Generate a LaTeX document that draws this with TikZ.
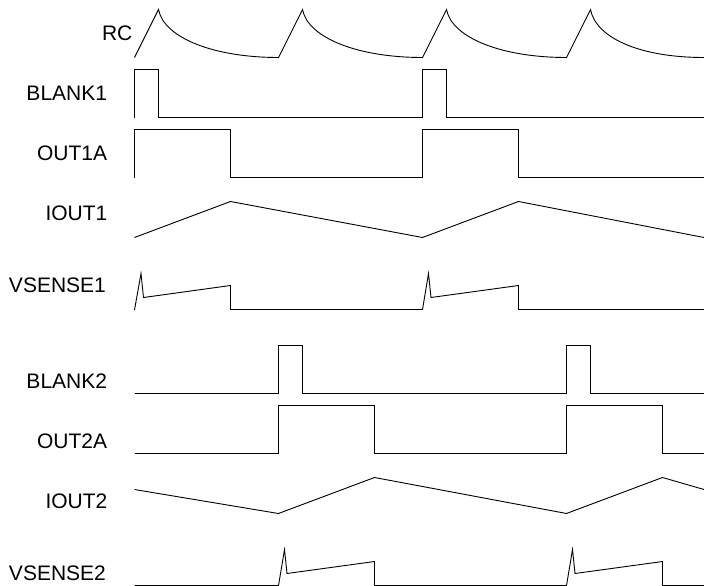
\documentclass[tikz,border=0pt]{standalone}
\usepackage{fontspec}
\setmainfont{Liberation Sans}
\tikzset{
  wave/.style={draw=black,line width=0.9pt,line join=miter,miter limit=10},
  siglabel/.style={anchor=base west,inner sep=0pt,outer sep=0pt,font=\fontsize{21}{24}\selectfont,text=black}
}
\begin{document}
\begin{tikzpicture}[x=1pt,y=-1pt]
\useasboundingbox (0,0) rectangle (704,586);
\node[siglabel] (rc) at (102,40.5) {RC};
\node[siglabel] (blank1) at (26.5,100) {BLANK1};
\node[siglabel] (out1a) at (37,160) {OUT1A};
\node[siglabel] (iout1) at (45.5,220.5) {IOUT1};
\node[siglabel] (vsense1) at (9,292) {VSENSE1};
\node[siglabel] (blank2) at (26.5,388.5) {BLANK2};
\node[siglabel] (out2a) at (37,448) {OUT2A};
\node[siglabel] (iout2) at (45.5,508) {IOUT2};
\node[siglabel] (vsense2) at (9,580) {VSENSE2};
% RC
\draw[wave] (134.5,57.5) -- (158.5,9.5) .. controls (164,38) and (214,57.5) .. (278.5,57.5)
  -- (302.5,9.5) .. controls (308,38) and (358,57.5) .. (422.5,57.5)
  -- (446.5,9.5) .. controls (452,38) and (502,57.5) .. (566.5,57.5)
  -- (590.5,9.5) .. controls (596,38) and (640,57.5) .. (704,57.5);
% BLANK1
\draw[wave] (134.5,117.5) -- (134.5,69.5) -- (158.5,69.5) -- (158.5,117.5) -- (422.5,117.5) -- (422.5,69.5) -- (446.5,69.5) -- (446.5,117.5) -- (704,117.5);
% OUT1A
\draw[wave] (134.5,177.5) -- (134.5,129.5) -- (230.5,129.5) -- (230.5,177.5) -- (422.5,177.5) -- (422.5,129.5) -- (518.5,129.5) -- (518.5,177.5) -- (704,177.5);
% IOUT1
\draw[wave] (134.5,237.5) -- (230.5,201.5) -- (422.5,237.5) -- (518.5,201.5) -- (704,237.5);
% VSENSE1
\draw[wave] (134.5,310) -- (141,273.5) -- (143.5,297.5) -- (230.5,285.5) -- (230.5,309.5) -- (422.5,309.5) -- (428.5,273.5) -- (431,297.5) -- (518.5,285.5) -- (518.5,309.5) -- (704,309.5);
% BLANK2
\draw[wave] (134.5,393.5) -- (278.5,393.5) -- (278.5,345.5) -- (302.5,345.5) -- (302.5,393.5) -- (566.5,393.5) -- (566.5,345.5) -- (590.5,345.5) -- (590.5,393.5) -- (704,393.5);
% OUT2A
\draw[wave] (134.5,453.5) -- (278.5,453.5) -- (278.5,405.5) -- (374.5,405.5) -- (374.5,453.5) -- (566.5,453.5) -- (566.5,405.5) -- (662.5,405.5) -- (662.5,453.5) -- (704,453.5);
% IOUT2
\draw[wave] (134.5,489.5) -- (278.5,513.5) -- (374.5,477.5) -- (566.5,513.5) -- (662.5,477.5) -- (704,489.5);
% VSENSE2
\draw[wave] (134.5,585.5) -- (278.5,585.5) -- (284.5,549.5) -- (287,573.5) -- (374.5,561.5) -- (374.5,585.5) -- (566.5,585.5) -- (572.5,549.5) -- (575,573.5) -- (662.5,561.5) -- (662.5,585.5) -- (704,585.5);
\end{tikzpicture}
\end{document}
